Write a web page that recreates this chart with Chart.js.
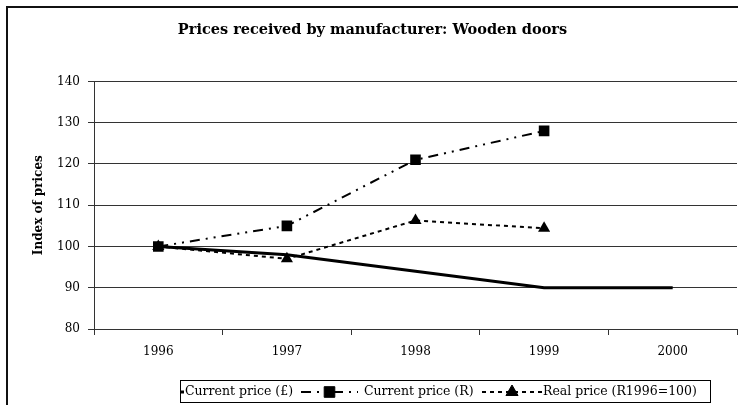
<!DOCTYPE html>
<html>
<head>
<meta charset="utf-8">
<script src="https://cdn.jsdelivr.net/npm/chart.js"></script>
<style>
  html, body { margin: 0; padding: 0; background: #fff; }
  #wrap { width: 738px; height: 405px; }
</style>
</head>
<body>
<div id="wrap"><canvas id="chart" width="738" height="405"></canvas></div>
<script>
const years = ["1996", "1997", "1998", "1999", "2000"];
const currentPound = [100, 98, 94, 90, 90];
const currentRand = [100, 105, 121, 128, null];
const realPrice = [100, 97, 106.3, 104.4, null];
const seriesNames = ["Current price (£)", "Current price (R)", "Real price (R1996=100)"];

const serif = "'DejaVu Serif', 'Liberation Serif', serif";
const ink = "#000";

// frame round the whole chart + the legend box at the bottom
const framePlugin = {
  id: "frame",
  afterDraw(chart) {
    const ctx = chart.ctx;
    ctx.save();
    ctx.strokeStyle = "#111";
    ctx.lineWidth = 2;
    ctx.strokeRect(7, 7, 760, 420);

    // legend
    const bx = 180, by = 380, bw = 530, bh = 22;
    ctx.fillStyle = "#fff";
    ctx.fillRect(bx, by, bw, bh);
    ctx.lineWidth = 1;
    ctx.strokeStyle = "#000";
    ctx.strokeRect(bx + 0.5, by + 0.5, bw, bh);
    const cy = by + bh / 2 + 1;
    ctx.beginPath();
    ctx.rect(bx + 1, by + 1, bw - 2, bh - 2);
    ctx.clip();
    const items = [
      {x0: 124, x1: 184, text: 185},
      {x0: 301, x1: 358, text: 364},
      {x0: 482, x1: 542, text: 543}
    ];
    chart.data.datasets.forEach((ds, i) => {
      const it = items[i];
      ctx.save();
      ctx.strokeStyle = ink;
      ctx.lineWidth = ds.borderWidth;
      ctx.setLineDash(ds.borderDash || []);
      ctx.beginPath();
      ctx.moveTo(it.x0, cy);
      ctx.lineTo(it.x1, cy);
      ctx.stroke();
      ctx.restore();
      if (ds.pointRadius > 0) {
        ctx.fillStyle = ink;
        ctx.strokeStyle = ink;
        Chart.helpers.drawPoint(ctx, {pointStyle: ds.pointStyle, radius: ds.pointRadius, borderWidth: 1}, (it.x0 + it.x1) / 2, cy);
      }
      ctx.fillStyle = ink;
      ctx.font = "12.5px " + serif;
      ctx.textBaseline = "middle";
      ctx.textAlign = "left";
      ctx.fillText(ds.label, it.text, cy);
    });
    ctx.restore();
  }
};

new Chart(document.getElementById("chart").getContext("2d"), {
  type: "line",
  data: {
    labels: years,
    datasets: [
      {
        label: seriesNames[0],
        data: currentPound,
        borderColor: ink,
        backgroundColor: ink,
        borderWidth: 3,
        pointRadius: 0,
        borderDash: []
      },
      {
        label: seriesNames[1],
        data: currentRand,
        borderColor: ink,
        backgroundColor: ink,
        borderWidth: 2,
        borderDash: [10, 6, 2, 6, 2, 6],
        pointStyle: "rect",
        pointRadius: 7.5,
        pointBorderWidth: 0
      },
      {
        label: seriesNames[2],
        data: realPrice,
        borderColor: ink,
        backgroundColor: ink,
        borderWidth: 2,
        borderDash: [4, 4],
        pointStyle: "triangle",
        pointRadius: 7,
        pointBorderWidth: 0
      }
    ]
  },
  options: {
    responsive: false,
    animation: false,
    spanGaps: false,
    layout: { autoPadding: false, padding: { left: 8, top: 8, right: 1, bottom: 36 } },
    plugins: {
      legend: { display: false },
      tooltip: { enabled: false },
      title: {
        display: true,
        text: "Prices received by manufacturer: Wooden doors",
        color: ink,
        font: { family: serif, size: 14.5, weight: "bold", lineHeight: 1.2 },
        padding: { top: 14, bottom: 42 }
      }
    },
    scales: {
      x: {
        offset: true,
        grid: { display: true, drawOnChartArea: false, drawTicks: true, tickLength: 6, offset: true, color: "#333" },
        border: { display: true, color: "#333", width: 1 },
        ticks: { color: ink, font: { family: serif, size: 12 }, padding: 10, maxRotation: 0 },
        afterFit(scale) { scale.height = 40; scale.paddingLeft = 0; scale.paddingRight = 0; }
      },
      y: {
        min: 80,
        max: 140,
        grid: { color: "#333", tickLength: 6, lineWidth: 1 },
        border: { display: true, color: "#333", width: 1 },
        ticks: { stepSize: 10, color: ink, font: { family: serif, size: 12 }, padding: 8 },
        title: {
          display: true,
          text: "Index of prices",
          color: ink,
          font: { family: serif, size: 12, weight: "bold" },
          padding: { top: 24, bottom: 4 }
        },
        afterFit(scale) { scale.width = 86; }
      }
    }
  },
  plugins: [framePlugin]
});
</script>
</body>
</html>
